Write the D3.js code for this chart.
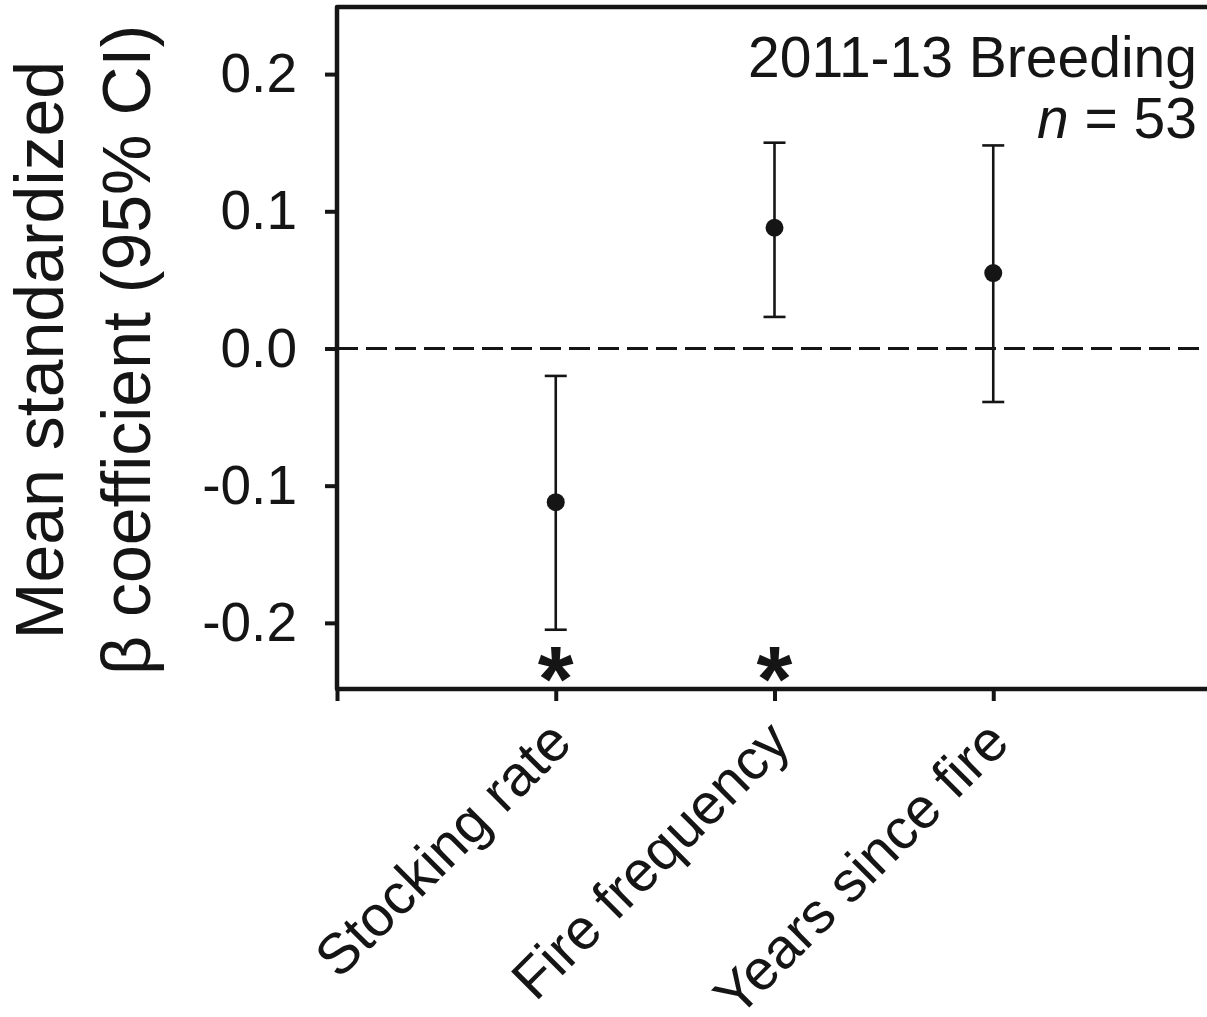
<!DOCTYPE html>
<html>
<head>
<meta charset="utf-8">
<script src="https://cdn.jsdelivr.net/npm/d3@7"></script>
<style>
  html, body { margin: 0; padding: 0; background: #fff; }
  svg { display: block; }
  text { font-family: "Liberation Sans", Arial, Helvetica, sans-serif; fill: #151515; }
</style>
</head>
<body>
<script>
// Predictor effects: mean standardized beta coefficients with 95% CIs
const categories = ["Stocking rate", "Fire frequency", "Years since fire"];
const means      = [-0.112, 0.088, 0.055];
const lowerCI    = [-0.205, 0.023, -0.039];
const upperCI    = [-0.020, 0.150, 0.148];
const significant = [true, true, false];
const yTicks     = [-0.2, -0.1, 0.0, 0.1, 0.2];
const panelTitle = "2011-13 Breeding";
const sampleSize = 53;

const W = 1207, H = 1017;
const ink = "#151515";

const svg = d3.select("body").append("svg")
  .attr("width", W).attr("height", H);

// Scales: categories sit at integer positions 1..3 on a 0..4 axis
const x = d3.scaleLinear().domain([0, 4]).range([337, 1212]);
const y = d3.scaleLinear().domain([-0.2482, 0.2489]).range([689, 7]);

const rows = categories.map((c, i) => ({
  name: c, pos: i + 1, mean: means[i], lo: lowerCI[i], hi: upperCI[i], sig: significant[i]
}));

// Y axis
const fmt = d => d3.format(".1f")(d).replace("\u2212", "-");
const yAxis = svg.append("g")
  .attr("transform", `translate(${x(0)},0)`)
  .call(d3.axisLeft(y).tickValues(yTicks).tickSize(12).tickPadding(28).tickFormat(fmt));
yAxis.select(".domain").remove();
yAxis.selectAll(".tick line").attr("stroke", ink).attr("stroke-width", 4);
yAxis.selectAll(".tick text")
  .attr("font-size", 55).attr("font-family", null).attr("fill", ink);

// X axis with rotated category labels
const xAxis = svg.append("g")
  .attr("transform", `translate(0,${y.range()[0]})`)
  .call(d3.axisBottom(x).tickValues([0, 1, 2, 3]).tickSize(12)
    .tickFormat(d => d === 0 ? "" : categories[d - 1]));
xAxis.select(".domain").remove();
xAxis.selectAll(".tick line").attr("stroke", ink).attr("stroke-width", 4);
xAxis.selectAll(".tick text")
  .attr("font-size", 57).attr("font-family", null).attr("fill", ink)
  .attr("text-anchor", "end")
  .attr("y", 0).attr("dy", 0)
  .attr("transform", "translate(18,56) rotate(-45)");

// Frame: left axis, top border, bottom axis
svg.append("path")
  .attr("d", `M${x(4)},${y.range()[1]} H${x(0)} V${y.range()[0]} H${x(4)}`)
  .attr("fill", "none").attr("stroke", ink).attr("stroke-width", 4.5)
  .attr("stroke-linejoin", "round");

// Zero reference line
svg.append("line")
  .attr("x1", x(0)).attr("x2", x(4))
  .attr("y1", y(0)).attr("y2", y(0))
  .attr("stroke", ink).attr("stroke-width", 3.2)
  .attr("stroke-dasharray", "21 8");

// Error bars
const capHalf = 11;
const bars = svg.append("g").selectAll("g").data(rows).join("g");
bars.append("line")
  .attr("x1", d => x(d.pos)).attr("x2", d => x(d.pos))
  .attr("y1", d => y(d.lo)).attr("y2", d => y(d.hi))
  .attr("stroke", ink).attr("stroke-width", 2.6);
bars.append("line")
  .attr("x1", d => x(d.pos) - capHalf).attr("x2", d => x(d.pos) + capHalf)
  .attr("y1", d => y(d.hi)).attr("y2", d => y(d.hi))
  .attr("stroke", ink).attr("stroke-width", 2.6);
bars.append("line")
  .attr("x1", d => x(d.pos) - capHalf).attr("x2", d => x(d.pos) + capHalf)
  .attr("y1", d => y(d.lo)).attr("y2", d => y(d.lo))
  .attr("stroke", ink).attr("stroke-width", 2.6);
bars.append("circle")
  .attr("cx", d => x(d.pos)).attr("cy", d => y(d.mean))
  .attr("r", 9).attr("fill", ink);

// Significance markers
svg.append("g").selectAll("text").data(rows.filter(d => d.sig)).join("text")
  .attr("x", d => x(d.pos)).attr("y", 711)
  .attr("text-anchor", "middle")
  .attr("font-size", 92).attr("font-weight", "bold")
  .text("*");

// Panel annotation
svg.append("text")
  .attr("x", 1197).attr("y", 77)
  .attr("text-anchor", "end").attr("font-size", 57)
  .text(panelTitle);
const nLabel = svg.append("text")
  .attr("x", 1197).attr("y", 138)
  .attr("text-anchor", "end").attr("font-size", 57);
nLabel.append("tspan").attr("font-style", "italic").text("n");
nLabel.append("tspan").text(` = ${sampleSize}`);

// Y axis title (two lines)
const titleLines = ["Mean standardized", "\u03B2 coefficient (95% CI)"];
svg.append("g").selectAll("text").data(titleLines).join("text")
  .attr("transform", (d, i) => `translate(${i === 0 ? 63 : 150},350) rotate(-90)`)
  .attr("text-anchor", "middle")
  .attr("font-size", 68)
  .text(d => d);
</script>
</body>
</html>
